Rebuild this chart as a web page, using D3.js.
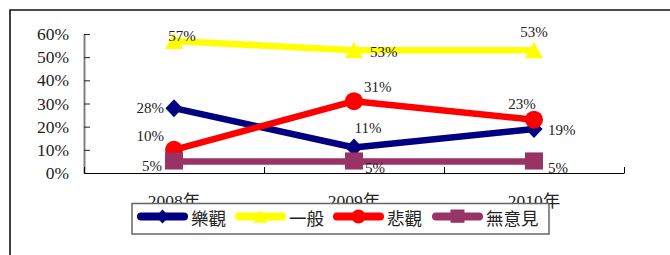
<!DOCTYPE html>
<html><head><meta charset="utf-8">
<script src="https://cdn.jsdelivr.net/npm/d3@7"></script>
<style>body{margin:0;background:#fff}svg{display:block}</style>
</head><body>
<svg id="c" width="670" height="255"></svg>
<script>
const categories = ["2008年","2009年","2010年"];
const seriesNames = ["樂觀","一般","悲觀","無意見"];
const optimistic = [28, 11, 19];
const neutral = [57, 53, 53];
const pessimistic = [10, 31, 23];
const noOpinion = [5, 5, 5];
const yTicks = [0,10,20,30,40,50,60];

// styling / layout (not data)
const colors = ["#000080","#FFFF00","#FF0000","#993366"];
const shapes = ["diamond","triangle","circle","square"];
// label offsets [dx, dy] relative to marker; anchor
const labelPlace = [
  [[-10,0,"end"],[14,-20,"middle"],[14,1,"start"]],
  [[8,-5,"middle"],[16,2,"start"],[0,-18,"middle"]],
  [[-10,-14,"end"],[10,-14,"start"],[-12,-16,"middle"]],
  [[-12,4,"end"],[11,6,"start"],[14,6,"start"]]
];
const allSeries = [optimistic, neutral, pessimistic, noOpinion];

const svg = d3.select("#c");
const serif = "'Liberation Serif','Times New Roman',serif";
const cjk = "'Liberation Serif','Noto Sans CJK TC','Noto Sans CJK SC',serif";

// frame
svg.append("path").attr("d","M10,255V10H670").attr("fill","none").attr("stroke","#111").attr("stroke-width",1.6);

const x = d3.scaleBand().domain(categories).range([84,624]).padding(0);
const xEdge = d3.scaleLinear().domain([0,3]).range([84,624]);
const y = d3.scaleLinear().domain([0,60]).range([173,34]);

// y axis
const ya = svg.append("g").attr("transform","translate(84,0)")
  .call(d3.axisLeft(y).tickValues(yTicks).tickSizeInner(-6).tickSizeOuter(0).tickPadding(15).tickFormat(d=>d+"%"));
ya.select(".domain").attr("stroke","#808080").attr("stroke-width",2);
ya.selectAll(".tick line").attr("stroke","#222");
ya.selectAll(".tick text").attr("font-family",serif).attr("font-size",17.5).attr("fill","#222");

// x axis
const xa = svg.append("g").attr("transform","translate(0,173)")
  .call(d3.axisBottom(xEdge).tickValues([0,1,2,3]).tickSizeInner(-6).tickSizeOuter(0).tickFormat(""));
xa.select(".domain").attr("stroke","#000").attr("stroke-width",1.2);
xa.selectAll(".tick line").attr("stroke","#000");

svg.append("g").selectAll("text").data(categories).join("text")
  .attr("x",d=>x(d)+x.bandwidth()/2).attr("y",207)
  .attr("text-anchor","middle").attr("font-family",cjk).attr("font-size",17.5).attr("fill","#222")
  .text(d=>d);

function marker(g, shape, cx, cy, s, color){
  if(shape==="circle"){
    g.append("circle").attr("cx",cx).attr("cy",cy).attr("r",s/2).attr("fill",color);
  } else if(shape==="square"){
    g.append("rect").attr("x",cx-s/2).attr("y",cy-s/2).attr("width",s).attr("height",s*0.95).attr("fill",color);
  } else if(shape==="diamond"){
    const w=s/2*0.95,h=s/2;
    g.append("path").attr("d",`M${cx},${cy-h}L${cx+w},${cy}L${cx},${cy+h}L${cx-w},${cy}Z`).attr("fill",color);
  } else {
    const w=s/2,h=s*0.9;
    g.append("path").attr("d",`M${cx},${cy-h*0.5}L${cx+w},${cy+h*0.5}L${cx-w},${cy+h*0.5}Z`).attr("fill",color);
  }
}

const line = d3.line().x((d,i)=>x(categories[i])+x.bandwidth()/2).y(d=>y(d));
allSeries.forEach((vals,si)=>{
  const g = svg.append("g");
  g.append("path").datum(vals).attr("d",line).attr("fill","none")
    .attr("stroke",colors[si]).attr("stroke-width",6.5).attr("stroke-linejoin","round");
  vals.forEach((v,i)=>{
    marker(g, shapes[si], x(categories[i])+x.bandwidth()/2, y(v), 18, colors[si]);
  });
});
// labels
allSeries.forEach((vals,si)=>{
  vals.forEach((v,i)=>{
    const p = labelPlace[si][i];
    svg.append("text").attr("x",x(categories[i])+x.bandwidth()/2+p[0]).attr("y",y(v)+p[1])
      .attr("dy","0.35em").attr("text-anchor",p[2])
      .attr("font-family",serif).attr("font-size",15).attr("fill","#222").text(v+"%");
  });
});

// legend
const lg = svg.append("g");
lg.append("rect").attr("x",132).attr("y",203.5).attr("width",417).attr("height",30.5)
  .attr("fill","#fff").attr("stroke","#666").attr("stroke-width",1.5);
const legX = [137,235,333,432];
seriesNames.forEach((n,si)=>{
  const x0 = legX[si];
  lg.append("line").attr("x1",x0+4).attr("x2",x0+47).attr("y1",216.5).attr("y2",216.5)
    .attr("stroke",colors[si]).attr("stroke-width",8).attr("stroke-linecap","round");
  marker(lg, shapes[si], x0+25.5, 216.5, 14, colors[si]);
  lg.append("text").attr("x",x0+54).attr("y",219).attr("dy","0.35em")
    .attr("font-family","'Noto Sans CJK TC','Noto Sans CJK SC',sans-serif").attr("font-size",17.5).attr("fill","#222").text(n);
});
</script>
</body></html>
